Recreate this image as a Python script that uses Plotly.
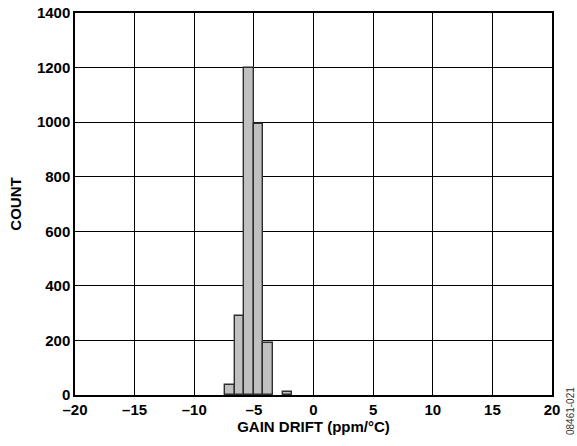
import plotly.graph_objects as go

# Data
bin_centers = [-7.0, -6.2, -5.4, -4.6, -3.8, -2.2]
counts = [38, 290, 1200, 995, 192, 10]
bin_width = 0.8

x_tick_vals = [-20, -15, -10, -5, 0, 5, 10, 15, 20]
x_tick_text = ["\u201320", "\u201315", "\u201310", "\u20135", "0", "5", "10", "15", "20"]
y_tick_vals = [0, 200, 400, 600, 800, 1000, 1200, 1400]

FONT = "Liberation Sans, Arial, sans-serif"

fig = go.Figure()
fig.add_trace(go.Bar(
    x=bin_centers,
    y=counts,
    width=[bin_width] * len(bin_centers),
    marker=dict(color="#c0c0c0", line=dict(color="#2e2e2e", width=1.4)),
    showlegend=False,
))

fig.update_layout(
    width=577,
    height=446,
    margin=dict(l=75, r=25, t=13, b=51, autoexpand=False),
    plot_bgcolor="white",
    paper_bgcolor="white",
    font=dict(family=FONT, size=15, color="black"),
    xaxis=dict(
        range=[-20, 20],
        tickvals=x_tick_vals,
        ticktext=x_tick_text,
        showgrid=True,
        gridcolor="black",
        gridwidth=1,
        showline=True,
        linecolor="black",
        linewidth=1.5,
        mirror=True,
        zeroline=False,
        ticks="",
        automargin=False,
        tickfont=dict(family=FONT, size=15, weight="bold"),
        title=dict(text="GAIN DRIFT (ppm/°C)", font=dict(family=FONT, size=15, weight="bold"), standoff=2),
    ),
    yaxis=dict(
        range=[0, 1400],
        tickvals=y_tick_vals,
        showgrid=True,
        gridcolor="black",
        gridwidth=1,
        showline=True,
        linecolor="black",
        linewidth=1.5,
        mirror=True,
        zeroline=False,
        ticks="",
        automargin=False,
        tickfont=dict(family=FONT, size=15, weight="bold"),
        title=dict(text="COUNT", font=dict(family=FONT, size=15, weight="bold"), standoff=12),
    ),
    bargap=0,
)

fig.add_annotation(
    text="08461-021",
    xref="paper", yref="paper",
    x=1.0, y=-0.042,
    xshift=18,
    textangle=-90,
    showarrow=False,
    font=dict(family=FONT, size=10, color="#333333"),
    xanchor="center", yanchor="middle",
)

fig.write_html(
    "out.html",
    config={"displayModeBar": False},
    post_script="document.body.style.margin='0px';",
)
